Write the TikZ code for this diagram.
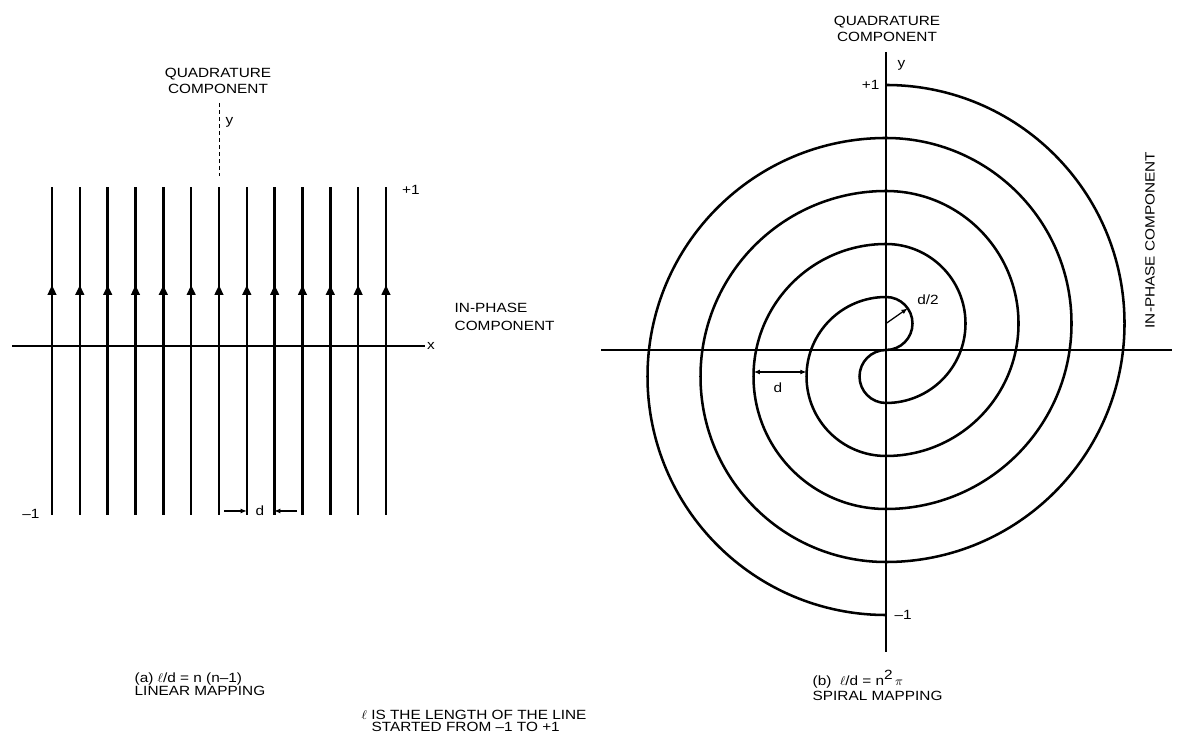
\documentclass[tikz,border=0pt]{standalone}
\usepackage{fontspec}
\setmainfont[FakeStretch=1.15]{Liberation Sans}
\usepackage{tikz}
\usetikzlibrary{arrows.meta,positioning,calc}

\begin{document}
\begin{tikzpicture}[x=0.025cm,y=0.025cm,>=Latex,font=\fontsize{9.5}{11}\selectfont]
\tikzstyle{axis}=[line width=1pt]
\tikzstyle{trace}=[line width=1.8pt]
\tikzstyle{lbl}=[inner sep=1pt,align=center]
\tikzstyle{dim}=[line width=0.9pt,-{Latex[length=4.5pt,width=3.5pt]}]
\useasboundingbox (0,0) rectangle (1181,742);

% (a) linear mapping
\coordinate (xa0) at (12,396);
\coordinate (xa1) at (425,396);
\draw[axis] (xa0) -- (xa1) node[right,lbl] (xa) {x};
\coordinate (ya0) at (219,639);
\coordinate (ya1) at (219,566);
\draw[line width=0.5pt,densely dashed] (ya0) -- (ya1);
\node[lbl,anchor=west] (ya) at (224,620) {y};
\node[lbl,font=\fontsize{9.5}{11.5}\selectfont] (qa) at (218,661) {QUADRATURE\\COMPONENT};
\foreach \i in {0,...,12}{
  \draw[trace,-{Triangle[length=7pt,width=6pt]}] ({52+27.83*\i},227) -- ({52+27.83*\i},457);
  \draw[trace] ({52+27.83*\i},450) -- ({52+27.83*\i},555);
}
\node[lbl] (pa) at (411,552) {+1};
\node[lbl] (ma) at (31,228) {--1};
% spacing d
\coordinate (da0) at (224,231);
\coordinate (da1) at (247,231);
\coordinate (da2) at (297,231);
\coordinate (da3) at (274,231);
\draw[dim] (da0) -- (da1);
\draw[dim] (da2) -- (da3);
\node[lbl] (da) at (260,231) {d};
\node[lbl,align=left,anchor=west,font=\fontsize{9.5}{12.5}\selectfont] (ia) at (453,425) {IN-PHASE\\COMPONENT};
\node[lbl,align=left,anchor=west,font=\fontsize{9.5}{8}\selectfont] (capa) at (133,58) {(a) $\ell$/d = n (n--1)\\LINEAR MAPPING};

% (b) spiral mapping
\coordinate (xb0) at (601,392);
\coordinate (xb1) at (1172,392);
\coordinate (yb0) at (886,690);
\coordinate (yb1) at (886,90);
\draw[axis] (xb0) -- (xb1);
\draw[axis] (yb0) -- (yb1);
\node[lbl,font=\fontsize{9.5}{11.5}\selectfont] (qb) at (887,713) {QUADRATURE\\COMPONENT};
\node[lbl,anchor=west] (yb) at (896,677) {y};
\node[lbl,anchor=east] (pb) at (881,657) {+1};
\node[lbl,anchor=west] (mb) at (893,127) {--1};
\node[lbl,rotate=90] (ib) at (1150,502) {IN-PHASE COMPONENT};
\draw[trace] (886,657) arc[start angle=90,end angle=-90,radius=238.5]
  arc[start angle=-90,end angle=-270,radius=185.5]
  arc[start angle=90,end angle=-90,radius=132.5]
  arc[start angle=-90,end angle=-270,radius=79.5]
  arc[start angle=90,end angle=-90,radius=26.5]
  arc[start angle=90,end angle=270,radius=26.5]
  arc[start angle=-90,end angle=90,radius=79.5]
  arc[start angle=90,end angle=270,radius=132.5]
  arc[start angle=-90,end angle=90,radius=185.5]
  arc[start angle=90,end angle=270,radius=238.5];
% half spacing d/2
\coordinate (hc) at (886,418.5);
\coordinate (he) at ($(hc)+(35:26.5)$);
\draw[dim] (hc) -- (he);
\node[lbl] (hb) at (928,442) {d/2};
% spacing d
\coordinate (db0) at (753.6,370);
\coordinate (db1) at (806.6,370);
\draw[dim,{Latex[length=4.5pt,width=3.5pt]}-{Latex[length=4.5pt,width=3.5pt]}] (db0) -- (db1);
\node[lbl] (db) at (778,354) {d};
\node[lbl,align=left,anchor=west] (capb) at (811,56.5) {(b)\ \ $\ell$/d = n\raisebox{0.8ex}{2}\,$\pi$\\SPIRAL MAPPING};

% note
\node[lbl,align=left,anchor=west,font=\fontsize{9.5}{8.5}\selectfont] (nt) at (360,21) {$\ell$ IS THE LENGTH OF THE LINE\\\hspace*{7pt}STARTED FROM --1 TO +1};
\end{tikzpicture}
\end{document}
